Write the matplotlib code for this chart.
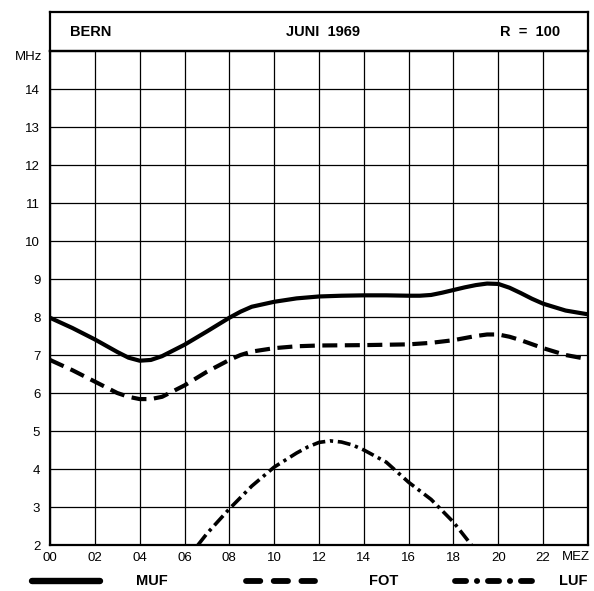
import matplotlib
matplotlib.use("Agg")
import matplotlib.pyplot as plt
from matplotlib.lines import Line2D

plt.rcParams['font.family'] = ['Liberation Sans', 'DejaVu Sans']

muf_h = [0, 1, 2, 3, 3.5, 4, 4.5, 5, 5.5, 6, 7, 8, 8.5, 9, 10, 11, 12, 13, 14, 15, 16, 16.5,
         17, 17.5, 18, 18.5, 19, 19.5, 20, 20.5, 21, 21.5, 22, 23, 24]
muf_f = [7.98, 7.71, 7.41, 7.08, 6.93, 6.85, 6.87, 6.97, 7.12, 7.27, 7.62, 7.98, 8.14, 8.27, 8.4,
         8.49, 8.54, 8.56, 8.57, 8.57, 8.56, 8.56, 8.58, 8.64, 8.71, 8.78, 8.84, 8.88, 8.87, 8.77,
         8.63, 8.48, 8.35, 8.17, 8.07]

fot_h = [0, 1, 2, 3, 3.5, 4, 4.5, 5, 5.5, 6, 7, 8, 8.5, 9, 10, 11, 12, 14, 16, 17, 18, 19,
         19.5, 20, 20.5, 21, 22, 23, 24]
fot_f = [6.87, 6.6, 6.3, 6.0, 5.9, 5.84, 5.84, 5.9, 6.05, 6.2, 6.56, 6.87, 7.0, 7.09, 7.18,
         7.23, 7.25, 7.26, 7.28, 7.32, 7.39, 7.5, 7.54, 7.54, 7.48, 7.39, 7.18, 7.0, 6.89]

luf_h = [6.6, 7, 8, 9, 10, 11, 11.5, 12, 12.5, 13, 13.5, 14, 15, 16, 17, 18, 18.8]
luf_f = [2.0, 2.3, 2.95, 3.55, 4.05, 4.42, 4.58, 4.7, 4.74, 4.71, 4.63, 4.5, 4.18, 3.65, 3.2, 2.6, 2.0]

x_ticks = [0, 2, 4, 6, 8, 10, 12, 14, 16, 18, 20, 22]
x_labels = ['00', '02', '04', '06', '08', '10', '12', '14', '16', '18', '20', '22']
y_ticks = list(range(2, 15))

fig = plt.figure(figsize=(5.94, 5.91), dpi=100)

# Kopfzeile
head = fig.add_axes([50/594, 1-51/591, 538/594, 39/591])
head.set_xticks([])
head.set_yticks([])
for s in head.spines.values():
    s.set_linewidth(1.6)
head.text(0.037, 0.5, 'BERN', ha='left', va='center', fontsize=10.5, fontweight='bold')
head.text(0.507, 0.5, 'JUNI  1969', ha='center', va='center', fontsize=10.5, fontweight='bold')
head.text(0.892, 0.5, 'R  =  100', ha='center', va='center', fontsize=10.5, fontweight='bold')

ax = fig.add_axes([50/594, 1-545/591, 538/594, 494/591])
ax.set_xlim(0, 24)
ax.set_ylim(2, 15)
ax.set_xticks(x_ticks + [24])
ax.set_xticklabels(x_labels + [''])
ax.set_yticks(y_ticks + [15])
ax.set_yticklabels([str(v) for v in y_ticks] + [''])
ax.tick_params(length=0, labelsize=9.5)
ax.tick_params(axis='x', pad=5)
ax.tick_params(axis='y', pad=7)
ax.grid(True, color='black', linewidth=0.9)
ax.set_axisbelow(True)
for s in ax.spines.values():
    s.set_linewidth(1.6)

ax.plot(muf_h, muf_f, color='black', linewidth=3.0, solid_joinstyle='round')
ax.plot(fot_h, fot_f, color='black', linewidth=3.0, dashes=(3.6, 1.8))
ax.plot(luf_h, luf_f, color='black', linewidth=2.6, dashes=(3.6, 1.3, 0.9, 1.3))

ax.text(-0.33, 14.84, 'MHz', ha='right', va='center', fontsize=9.5)
ax.text(23.46, 2 - 0.17, 'MEZ', ha='center', va='top', fontsize=9.5)

# Legende unten
leg = fig.add_axes([0, 0, 1, 1], facecolor='none')
leg.set_xlim(0, 594)
leg.set_ylim(591, 0)
leg.axis('off')
ly = 581
leg.add_line(Line2D([32, 100], [ly, ly], color='black', linewidth=4.6,
                    solid_capstyle='round'))
leg.add_line(Line2D([246, 315], [ly, ly], color='black', linewidth=4.2,
                    dashes=(2.45, 2.3), dash_capstyle='round'))
leg.add_line(Line2D([455, 533], [ly, ly], color='black', linewidth=4.2,
                    dashes=(1.9, 1.85, 0.05, 1.85), dash_capstyle='round'))
leg.text(152, ly, 'MUF', ha='center', va='center', fontsize=10.5, fontweight='bold')
leg.text(384, ly, 'FOT', ha='center', va='center', fontsize=10.5, fontweight='bold')
leg.text(573, ly, 'LUF', ha='center', va='center', fontsize=10.5, fontweight='bold')

fig.savefig('out.png', dpi=100)
